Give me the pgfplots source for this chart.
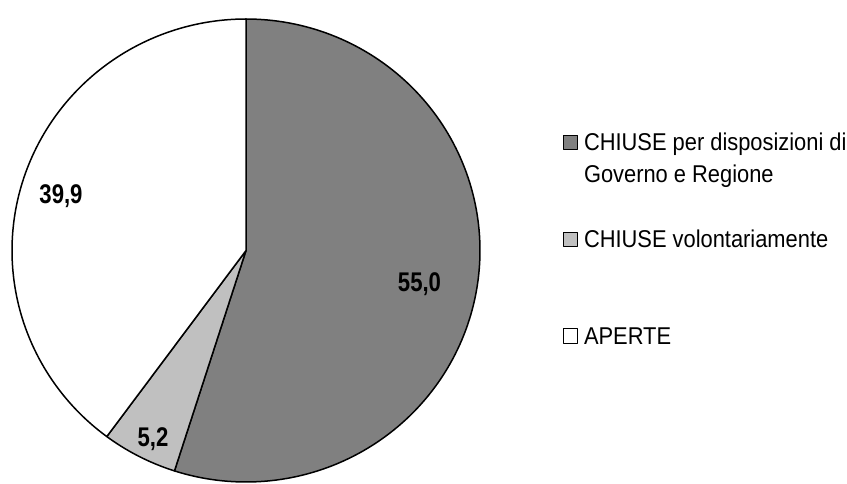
\documentclass[border=0pt]{standalone}
\usepackage{fontspec}
\setmainfont{Liberation Sans}
\newfontfamily\legfont{Liberation Sans}[FakeStretch=0.9]
\newfontfamily\lblfont{Liberation Sans}[FakeStretch=0.82]
\usepackage{pgfplots}
\pgfplotsset{compat=1.18}
\definecolor{dk}{HTML}{808080}
\definecolor{lt}{HTML}{C0C0C0}
\begin{document}
\begin{tikzpicture}
\def\vA{55.0}\def\vB{5.2}\def\vC{39.9}
\pgfmathsetmacro\tot{\vA+\vB+\vC}
\pgfmathsetmacro\aA{90}
\pgfmathsetmacro\aB{90-\vA/\tot*360}
\pgfmathsetmacro\aC{\aB-\vB/\tot*360}
\pgfmathsetmacro\aD{\aC-\vC/\tot*360}
\begin{axis}[
  scale only axis, width=847pt, height=483pt,
  xmin=0, xmax=847, ymin=0, ymax=483,
  hide axis, clip=true,
  legend image code/.code={\draw[#1,line width=1pt] (0pt,1.7pt) rectangle (14pt,15.7pt);},
  legend style={draw=none, fill=none, inner sep=0pt, outer sep=0pt,
    at={(axis cs:563,352.3)}, anchor=north west, column sep=6pt,
    font=\legfont\fontsize{24.3}{31.7}\selectfont,
    cells={anchor=base west},
    nodes={inner sep=0pt, text height=20pt, text depth=77pt}},
]
\addplot[draw=black, line width=1.5pt, line join=round, fill=dk, domain=\aB:\aA, samples=150]
  ({246+234*cos(x)},{232.5+231.5*sin(x)}) -- (axis cs:246,232.5) -- cycle;
\addlegendentry{\begin{tabular}[t]{@{}l@{}}CHIUSE per disposizioni di\\Governo e Regione\end{tabular}}
\addplot[draw=black, line width=1.5pt, line join=round, fill=lt, domain=\aC:\aB, samples=30]
  ({246+234*cos(x)},{232.5+231.5*sin(x)}) -- (axis cs:246,232.5) -- cycle;
\addlegendentry{CHIUSE volontariamente}
\addplot[draw=black, line width=1.5pt, line join=round, fill=white, domain=\aD:\aC, samples=150]
  ({246+234*cos(x)},{232.5+231.5*sin(x)}) -- (axis cs:246,232.5) -- cycle;
\addlegendentry{APERTE}
\node[anchor=base, font=\lblfont\bfseries\fontsize{27}{30}\selectfont, inner sep=0pt] at (axis cs:419.5,191.3) {55,0};
\node[anchor=base, font=\lblfont\bfseries\fontsize{27}{30}\selectfont, inner sep=0pt] at (axis cs:153,37) {5,2};
\node[anchor=base, font=\lblfont\bfseries\fontsize{27}{30}\selectfont, inner sep=0pt] at (axis cs:61,279.7) {39,9};
\end{axis}
\path (current axis.south west) rectangle (current axis.north east);
\end{tikzpicture}
\end{document}
